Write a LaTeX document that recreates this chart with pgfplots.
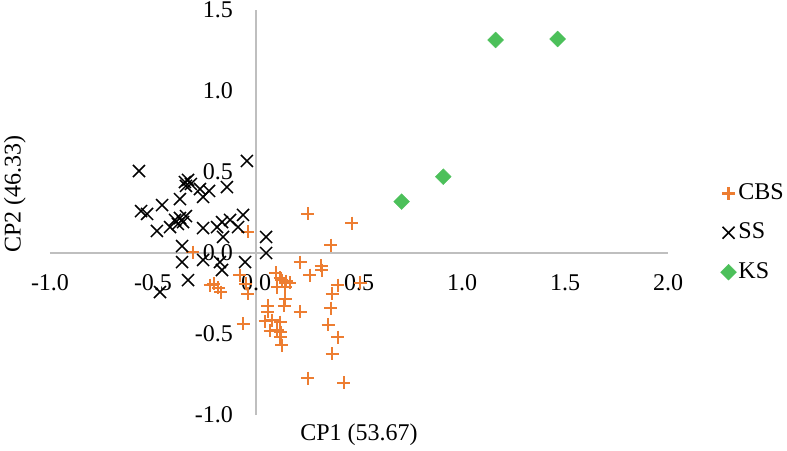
\documentclass[border=0pt]{standalone}
\usepackage{fontspec}
\setmainfont{Liberation Serif}
\usepackage{pgfplots}
\pgfplotsset{compat=1.18}
\usetikzlibrary{calc}
\definecolor{cbsorange}{RGB}{237,125,49}
\definecolor{ksgreen}{RGB}{76,192,90}
\definecolor{axgray}{RGB}{191,191,191}

\begin{document}
\fontsize{24bp}{28bp}\selectfont
\begin{tikzpicture}
\begin{axis}[
    scale only axis, width=618bp, height=405bp,
    xmin=-1, xmax=2, ymin=-1, ymax=1.5,
    axis lines=middle,
    axis line style={draw=axgray, line width=1.3bp, -},
    every inner x axis line/.append style={-},
    every inner y axis line/.append style={-},
    xtick={-1,-0.5,...,2}, ytick={-1,-0.5,...,1.5},
    hide obscured x ticks=false, hide obscured y ticks=false,
    major tick length=0pt,
    /pgf/number format/fixed, /pgf/number format/fixed zerofill,
    /pgf/number format/precision=1, /pgf/number format/assume math mode=true,
    xticklabel style={anchor=center, inner sep=0pt, yshift=-30bp},
    yticklabel style={anchor=east, inner sep=0pt, xshift=-23bp},
    xlabel={CP1 (53.67)}, ylabel={CP2 (46.33)},
    every axis x label/.style={at={(axis description cs:0.5,-0.049)}, anchor=center},
    every axis y label/.style={at={(axis description cs:-0.057,0.546)}, rotate=90, anchor=center},
    clip=false,
    legend style={draw=none, fill=none, at={(axis description cs:1.08,0.45)}, anchor=west,
        row sep=16bp, legend cell align=left},
    legend image code/.code={\draw[#1] plot coordinates {(0.2cm,0cm)};},
]
\addplot[only marks, mark=+, mark size=6.5bp, draw=cbsorange, line width=2.6bp,
    mark options={line width=2.6bp}] coordinates {
(-0.306,0.006) (-0.039,0.130) (-0.078,-0.136) (-0.049,-0.191) (-0.039,-0.253)
(-0.223,-0.198) (-0.204,-0.191) (-0.184,-0.216) (-0.170,-0.241)
(0.097,-0.123) (0.117,-0.154) (0.146,-0.173) (0.165,-0.185) (0.141,-0.210)
(0.102,-0.210) (0.126,-0.167) (0.214,-0.056) (0.316,-0.080) (0.320,-0.105)
(0.262,-0.136) (0.364,0.049) (0.466,0.185) (0.252,0.241) (0.369,-0.253)
(0.398,-0.198) (0.505,-0.185) (0.364,-0.340) (0.350,-0.444) (0.398,-0.519)
(0.369,-0.623) (0.427,-0.802) (0.214,-0.364) (0.141,-0.284) (0.136,-0.327)
(0.058,-0.327) (0.058,-0.364) (0.044,-0.420) (0.078,-0.414) (0.117,-0.426)
(0.068,-0.481) (0.102,-0.475) (0.121,-0.488) (0.117,-0.519) (0.126,-0.568)
(-0.063,-0.438) (0.252,-0.772)
};
\addlegendentry{CBS}
\addplot[only marks, mark=x, mark size=8.5bp, draw=black, line width=1.5bp,
    mark options={line width=1.5bp}] coordinates {
(-0.568,0.506) (-0.044,0.568) (-0.345,0.438) (-0.330,0.451) (-0.316,0.426)
(-0.340,0.414) (-0.272,0.395) (-0.228,0.383) (-0.257,0.346) (-0.141,0.407)
(-0.369,0.333) (-0.456,0.296) (-0.558,0.259) (-0.529,0.241) (-0.481,0.136)
(-0.417,0.160) (-0.393,0.204) (-0.369,0.216) (-0.354,0.191) (-0.340,0.228)
(-0.379,0.179) (-0.257,0.154) (-0.189,0.160) (-0.165,0.191) (-0.126,0.204)
(-0.063,0.235) (-0.087,0.160) (-0.160,0.099) (-0.359,0.043) (-0.359,-0.056)
(-0.257,-0.043) (-0.175,-0.056) (-0.165,-0.105) (-0.053,-0.056) (-0.330,-0.167)
(-0.466,-0.241) (0.049,0.099) (0.049,0.000)
};
\addlegendentry{SS}
\addplot[only marks, mark=square*, mark size=5.6bp, mark options={rotate=45}, draw=ksgreen, fill=ksgreen] coordinates {
(1.163,1.315) (1.464,1.321) (0.909,0.471) (0.707,0.317)
};
\addlegendentry{KS}
\coordinate (ll) at (rel axis cs:0,0);
\coordinate (ur) at (rel axis cs:1,1);
\end{axis}
\pgfresetboundingbox
\path[use as bounding box] ($(ll)+(-50bp,-36bp)$) rectangle ($(ur)+(119bp,10bp)$);
\end{tikzpicture}
\end{document}
